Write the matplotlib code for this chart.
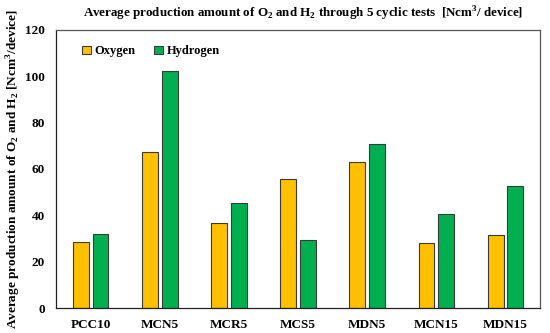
import matplotlib
matplotlib.use("Agg")
import matplotlib.pyplot as plt
import numpy as np

categories = ["PCC10", "MCN5", "MCR5", "MCS5", "MDN5", "MCN15", "MDN15"]
oxygen = [28.5, 67.5, 36.5, 55.5, 63.0, 28.0, 31.5]
hydrogen = [32.0, 102.5, 45.5, 29.5, 71.0, 40.5, 52.5]
yticks = [0, 20, 40, 60, 80, 100, 120]

plt.rcParams['font.family'] = ['Liberation Serif', 'DejaVu Serif']
plt.rcParams['font.weight'] = 'bold'
plt.rcParams['mathtext.fontset'] = 'custom'
plt.rcParams['mathtext.rm'] = 'Liberation Serif:bold'
plt.rcParams['mathtext.bf'] = 'Liberation Serif:bold'

fig = plt.figure(figsize=(5.5, 3.33), dpi=100)
ax = fig.add_axes([0.102, 0.075, 0.88, 0.835])

x = np.arange(len(categories))
w = 0.23
gap = 0.055
ax.bar(x - (w + gap) / 2, oxygen, w, color='#FFC000', edgecolor='#3a3a3a', linewidth=0.8, label='Oxygen')
ax.bar(x + (w + gap) / 2, hydrogen, w, color='#00B050', edgecolor='#3a3a3a', linewidth=0.8, label='Hydrogen')

ax.set_xlim(-0.5, len(categories) - 0.5)
ax.set_ylim(0, 120)
ax.set_yticks(yticks)
ax.set_xticks(x)
ax.set_xticklabels(categories, fontsize=9.5, fontweight='bold')
ax.tick_params(axis='both', length=0, labelsize=9.5, pad=8)
for lab in ax.get_yticklabels():
    lab.set_fontweight('bold')
for s in ax.spines.values():
    s.set_color('#555555')
    s.set_linewidth(0.9)
ax.spines['left'].set_color('#222222')
ax.spines['bottom'].set_color('#222222')

ax.set_ylabel('Average production amount of O$_\\mathbf{2}$ and H$_\\mathbf{2}$ [Ncm$^\\mathbf{3}$/device]',
              fontsize=9.5, fontweight='bold')
ax.yaxis.set_label_coords(-0.068, 0.5)
ax.set_title('Average production amount of O$_\\mathbf{2}$ and H$_\\mathbf{2}$ through 5 cyclic tests  [Ncm$^\\mathbf{3}$/ device]',
             fontsize=9.4, fontweight='bold', pad=9, x=0.51)
leg = ax.legend(loc='upper left', ncol=2, frameon=False, fontsize=9, handlelength=0.7, handleheight=0.7,
                handletextpad=0.3, columnspacing=1.5, bbox_to_anchor=(0.03, 0.985))
for t in leg.get_texts():
    t.set_fontweight('bold')

fig.savefig('out.png', dpi=100)
